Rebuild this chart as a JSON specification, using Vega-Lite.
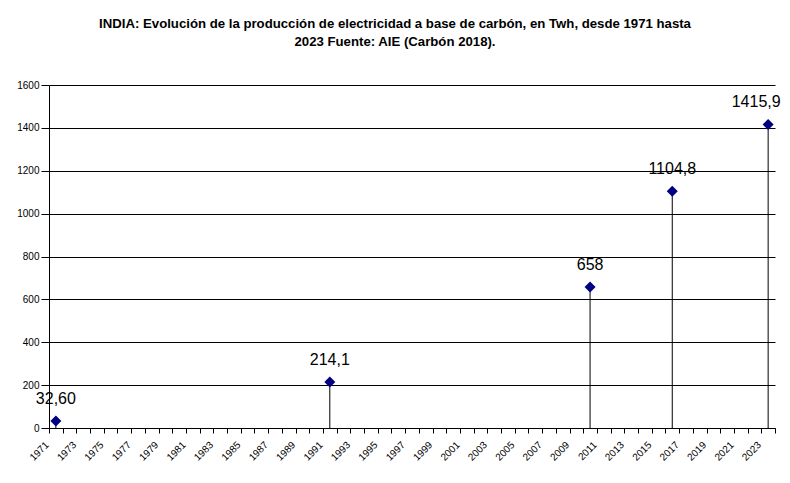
{
  "$schema": "https://vega.github.io/schema/vega-lite/v6.json",
  "autosize": {"type": "none"},
  "padding": {"left": 49, "top": 85, "right": 15, "bottom": 55},
  "width": 726,
  "height": 343,
  "background": "white",
  "title": {
    "text": ["INDIA: Evolución de la producción de electricidad a base de carbón, en Twh, desde 1971 hasta", "2023 Fuente: AIE (Carbón 2018)."],
    "font": "Liberation Sans",
    "fontSize": 13.2,
    "fontWeight": "bold",
    "color": "black",
    "anchor": "middle",
    "dx": -17,
    "offset": 31,
    "lineHeight": 18
  },
  "data": {
    "values": [
      {"year": 1971, "twh": 32.6, "label": "32,60"},
      {"year": 1991, "twh": 214.1, "label": "214,1"},
      {"year": 2010, "twh": 658, "label": "658"},
      {"year": 2016, "twh": 1104.8, "label": "1104,8"},
      {"year": 2023, "twh": 1415.9, "label": "1415,9"}
    ]
  },
  "encoding": {
    "x": {
      "field": "year",
      "type": "ordinal",
      "scale": {
        "type": "band",
        "paddingInner": 0,
        "paddingOuter": 0,
        "domain": [1971,1972,1973,1974,1975,1976,1977,1978,1979,1980,1981,1982,1983,1984,1985,1986,1987,1988,1989,1990,1991,1992,1993,1994,1995,1996,1997,1998,1999,2000,2001,2002,2003,2004,2005,2006,2007,2008,2009,2010,2011,2012,2013,2014,2015,2016,2017,2018,2019,2020,2021,2022,2023]
      },
      "axis": {
        "title": null,
        "tickBand": "extent",
        "tickSize": 5,
        "tickColor": "black",
        "domainColor": "black",
        "grid": false,
        "labelAngle": -45,
        "labelAlign": "right",
        "labelBaseline": "middle",
        "labelOffset": -9,
        "labelPadding": 10,
        "labelOverlap": false,
        "labelFont": "Liberation Sans",
        "labelFontSize": 10,
        "labelColor": "black",
        "labelExpr": "datum.value % 2 == 1 ? datum.value : ''"
      }
    },
    "y": {
      "field": "twh",
      "type": "quantitative",
      "scale": {"domain": [0, 1600], "nice": false},
      "axis": {
        "title": null,
        "format": "d",
        "values": [0, 200, 400, 600, 800, 1000, 1200, 1400, 1600],
        "grid": true,
        "gridColor": "black",
        "gridOpacity": 1,
        "tickColor": "black",
        "tickSize": 8,
        "domainColor": "black",
        "labelPadding": 2,
        "labelFont": "Liberation Sans",
        "labelFontSize": 10,
        "labelColor": "black"
      }
    }
  },
  "layer": [
    {
      "mark": {"type": "rule", "color": "black", "strokeWidth": 1},
      "encoding": {"y2": {"datum": 0}}
    },
    {
      "mark": {"type": "point", "shape": "diamond", "filled": true, "color": "#000080", "size": 121, "opacity": 1}
    },
    {
      "transform": [{"filter": "datum.year != 2023"}],
      "mark": {"type": "text", "font": "Liberation Sans", "fontSize": 16, "color": "black", "baseline": "alphabetic", "dy": -17},
      "encoding": {"text": {"field": "label"}}
    },
    {
      "transform": [{"filter": "datum.year == 2023"}],
      "mark": {"type": "text", "font": "Liberation Sans", "fontSize": 16, "color": "black", "baseline": "alphabetic", "dy": -17, "dx": -12},
      "encoding": {"text": {"field": "label"}}
    }
  ],
  "config": {"view": {"stroke": null}}
}
